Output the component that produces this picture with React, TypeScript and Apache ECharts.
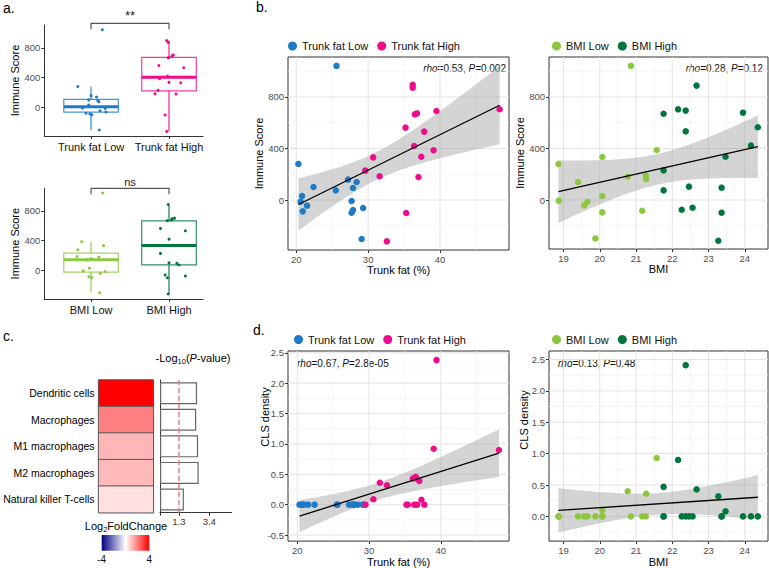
import React, { useEffect, useRef } from "react";
import * as echarts from "echarts";

const FONT = "'Liberation Sans', Arial, Helvetica, sans-serif";

// ---------------- DATA ----------------
const trunkGroups = ["Trunk fat Low", "Trunk fat High"];
const bmiGroups = ["BMI Low", "BMI High"];

// Immune score vs trunk fat (%)
const trunkLowX = [25.6, 20.3, 22.4, 20.8, 20.6, 21.5, 20.9, 25.5, 27.2, 28.4, 27.9, 27.7, 27.9, 27.7, 29.3, 29.1];
const trunkLowScore = [1041, 280, 101, 31, -13, -44, -88, 75, 158, 140, 93, -8, -78, -98, -62, -303];
const trunkLowJitter = [0.145, -0.17, -0.03, -0.03, 0.18, 0.115, -0.015, 0.1, 0, 0.07, 0.085, -0.11, -0.065, 0.01, 0.19, 0.105];
const trunkHighX = [36.2, 36.2, 36.5, 36.8, 39.5, 48.3, 35.2, 37.8, 36.4, 39.1, 37.4, 30.7, 29.6, 31.6, 37.0, 35.3, 32.6];
const trunkHighScore = [895, 872, 665, 672, 691, 704, 562, 531, 419, 386, 336, 331, 228, 184, 179, -101, -321];
const trunkHighJitter = [-0.03, -0.01, -0.01, 0, 0.04, 0.055, -0.13, 0.19, -0.02, -0.12, 0, 0.15, -0.14, -0.18, 0.09, -0.05, -0.03];

// Immune score vs BMI
const bmiLowX = [20.86, 21.57, 20.07, 18.86, 19.4, 20.77, 21.27, 21.28, 20.07, 18.87, 19.66, 19.57, 20.07, 21.17, 19.88];
const bmiLowScore = [1041, 388, 334, 280, 140, 181, 189, 161, 31, -5, -13, -41, -96, -83, -298];
const bmiLowJitter = [0.15, -0.12, 0.16, -0.17, -0.05, 0.1, -0.18, 0, -0.02, -0.1, 0.18, 0.12, 0.01, -0.03, 0.11];
const bmiHighX = [22.67, 22.16, 22.37, 21.76, 23.95, 24.36, 22.37, 24.17, 23.47, 21.76, 21.76, 22.46, 23.36, 22.26, 22.56, 23.36, 23.27];
const bmiHighScore = [888, 704, 694, 670, 678, 565, 533, 422, 336, 230, 75, 104, 96, -75, -60, -98, -316];
const bmiHighJitter = [-0.01, 0.07, 0.04, -0.02, 0.03, -0.11, 0.21, 0, 0.06, -0.11, 0.13, 0, 0.1, 0.21, -0.05, -0.02, -0.01];

// box stats [min, q1, median, q3, max]
const trunkLowBox = [-303, -63, 8, 107, 280];
const trunkHighBox = [-321, 223, 403, 671, 895];
const bmiLowBox = [-298, -21, 143, 233, 388];
const bmiHighBox = [-316, 76, 335, 666, 888];

// CLS density
const clsTrunkLowX = [25.6, 20.3, 22.4, 20.8, 20.6, 21.5, 20.9, 25.5, 27.2, 28.4, 27.9, 27.7, 27.9, 27.7, 29.3, 29.1];
const clsTrunkLow = [0, 0, 0, 0, 0, 0, 0, 0, 0, 0, 0, 0, 0, 0, 0, 0];
const clsTrunkHighX = [39.4, 39.0, 48.1, 31.5, 32.5, 30.6, 29.5, 35.2, 35.4, 36.3, 36.7, 37.7, 37.3, 36.1, 36.5, 36.6, 37.0];
const clsTrunkHigh = [2.38, 0.92, 0.9, 0.36, 0.32, 0.09, 0, 0, 0, 0, 0, 0, 0.08, 0.43, 0.46, 0.43, 0.39];
const clsBmiLowX = [18.86, 18.87, 19.4, 19.57, 19.66, 19.88, 20.07, 20.07, 20.07, 20.77, 20.86, 21.17, 21.27, 21.28, 21.57];
const clsBmiLow = [0, 0, 0, 0, 0, 0, 0, 0, 0.1, 0.4, 0, 0, 0, 0.36, 0.93];
const clsBmiHighX = [21.76, 21.76, 21.76, 22.16, 22.26, 22.37, 22.37, 22.46, 22.56, 22.67, 23.27, 23.36, 23.36, 23.47, 23.95, 24.17, 24.36];
const clsBmiHigh = [0.47, 0, 0, 0.9, 0, 2.41, 0, 0, 0, 0.43, 0.32, 0, 0, 0.08, 0, 0, 0];

// Panel c
const cellTypes = ["Dendritic cells", "Macrophages", "M1 macrophages", "M2 macrophages", "Natural killer T-cells"];
const log2FC = [4, 2, 1.15, 1.1, 0.5];
const negLog10P = [2.56, 2.5, 2.63, 2.67, 1.65];
const pThreshold = 1.3;
const pTicks = [0, 1.3, 3.4];
const pLabels = [1.3, 3.4];
const fcRange = [-4, 4];

// ticks
const scoreTicks = [0, 400, 800];
const scoreMinor = [-200, 200, 600, 1000];
const trunkTicks = [20, 30, 40];
const trunkMinor = [25, 35, 45];
const bmiTicks = [19, 20, 21, 22, 23, 24];
const bmiMinor = [19.5, 20.5, 21.5, 22.5, 23.5, 24.5];
const clsTicks = [-0.5, 0, 0.5, 1, 1.5, 2, 2.5];
const clsMinor = [-0.25, 0.25, 0.75, 1.25, 1.75, 2.25];

// ---------------- STYLE ----------------
const C_LT = "#1C7AC7";
const C_HT = "#EC0C8C";
const C_LB = "#8DC63F";
const C_HB = "#00753C";

const hexA = (hex: string, a: number) => {
  const n = parseInt(hex.slice(1), 16);
  return `rgba(${(n >> 16) & 255},${(n >> 8) & 255},${n & 255},${a})`;
};

function linFit(xs: number[], ys: number[]) {
  const n = xs.length;
  const mx = xs.reduce((s, v) => s + v, 0) / n;
  const my = ys.reduce((s, v) => s + v, 0) / n;
  let sxx = 0, sxy = 0;
  for (let i = 0; i < n; i++) {
    sxx += (xs[i] - mx) ** 2;
    sxy += (xs[i] - mx) * (ys[i] - my);
  }
  const b = sxy / sxx;
  const a = my - b * mx;
  let sse = 0;
  for (let i = 0; i < n; i++) sse += (ys[i] - a - b * xs[i]) ** 2;
  const s = Math.sqrt(sse / (n - 2));
  return { a, b, mx, sxx, s, n, x0: Math.min(...xs), x1: Math.max(...xs) };
}

function bandOf(f: any, steps = 60) {
  const t = 2.04;
  const lo: number[][] = [], hi: number[][] = [];
  for (let i = 0; i <= steps; i++) {
    const x = f.x0 + ((f.x1 - f.x0) * i) / steps;
    const y = f.a + f.b * x;
    const se = f.s * Math.sqrt(1 / f.n + (x - f.mx) ** 2 / f.sxx);
    lo.push([x, y - t * se]);
    hi.push([x, y + t * se]);
  }
  return { lo, hi };
}

const baseLabel = { fontFamily: FONT, fontSize: 9.5, color: "#4D4D4D" };

function valAxis(gridIndex: number, range: number[], ticks: number[], fmt: (v: number) => string, extra: any = {}) {
  const inR = ticks.filter((t) => t >= range[0] && t <= range[1]);
  return {
    type: "value",
    gridIndex,
    min: range[0],
    max: range[1],
    axisLine: { show: false, onZero: false },
    axisTick: { show: true, length: 3, customValues: inR, lineStyle: { color: "#333", width: 1 } },
    axisLabel: { ...baseLabel, margin: 4, customValues: inR, formatter: fmt },
    splitLine: { show: false },
    ...extra,
  };
}

function gridLinesSeries(gi: number, xr: number[], yr: number[], majX: number[], minX: number[], majY: number[], minY: number[]) {
  return {
    type: "custom",
    xAxisIndex: gi,
    yAxisIndex: gi,
    silent: true,
    z: 1,
    data: [[xr[0], yr[0]]],
    renderItem: (_p: any, api: any) => {
      const children: any[] = [];
      const add = (vals: number[], isX: boolean, major: boolean) => {
        vals.forEach((v) => {
          const r = isX ? xr : yr;
          if (v <= r[0] || v >= r[1]) return;
          const p1 = isX ? api.coord([v, yr[0]]) : api.coord([xr[0], v]);
          const p2 = isX ? api.coord([v, yr[1]]) : api.coord([xr[1], v]);
          children.push({
            type: "line",
            shape: { x1: p1[0], y1: p1[1], x2: p2[0], y2: p2[1] },
            style: { stroke: major ? "#E4E4E4" : "#F1F1F1", lineWidth: major ? 1 : 0.7 },
          });
        });
      };
      add(minX, true, false);
      add(minY, false, false);
      add(majX, true, true);
      add(majY, false, true);
      return { type: "group", children };
    },
  };
}

function bandSeries(gi: number, f: any) {
  const b = bandOf(f);
  return {
    type: "custom",
    xAxisIndex: gi,
    yAxisIndex: gi,
    silent: true,
    z: 2,
    clip: true,
    data: [[f.x0, f.a + f.b * f.x0]],
    renderItem: (_p: any, api: any) => {
      const pts = b.lo.map((p) => api.coord(p)).concat(b.hi.slice().reverse().map((p) => api.coord(p)));
      return { type: "polygon", shape: { points: pts }, style: { fill: "rgba(153,153,153,0.42)" } };
    },
  };
}

function fitLine(gi: number, f: any) {
  return {
    type: "line",
    xAxisIndex: gi,
    yAxisIndex: gi,
    silent: true,
    z: 5,
    symbol: "none",
    lineStyle: { color: "#000", width: 1.3 },
    data: [[f.x0, f.a + f.b * f.x0], [f.x1, f.a + f.b * f.x1]],
  };
}

function scatter(name: string, gi: number, xs: number[], ys: number[], color: string, size = 6.5) {
  return {
    type: "scatter",
    name,
    xAxisIndex: gi,
    yAxisIndex: gi,
    z: 4,
    symbolSize: size,
    itemStyle: { color, opacity: 1 },
    data: xs.map((x, i) => [x, ys[i]]),
  };
}

function jitterSeries(gi: number, center: number, jit: number[], ys: number[], color: string) {
  return {
    type: "scatter",
    xAxisIndex: gi,
    yAxisIndex: gi,
    z: 4,
    silent: true,
    symbolSize: 3,
    itemStyle: { color, opacity: 1 },
    data: ys.map((y, i) => [center + jit[i], y]),
  };
}

function boxSeries(gi: number, center: number, stats: number[], color: string) {
  return {
    type: "custom",
    xAxisIndex: gi,
    yAxisIndex: gi,
    silent: true,
    z: 2,
    data: [[center, ...stats]],
    renderItem: (_p: any, api: any) => {
      const c = api.value(0);
      const mn = api.value(1), q1 = api.value(2), md = api.value(3), q3 = api.value(4), mx = api.value(5);
      const hw = 0.35;
      const w1 = api.coord([c, mn]), w2 = api.coord([c, mx]);
      const b1 = api.coord([c - hw, q3]), b2 = api.coord([c + hw, q1]);
      const m1 = api.coord([c - hw, md]), m2 = api.coord([c + hw, md]);
      return {
        type: "group",
        children: [
          { type: "line", shape: { x1: w1[0], y1: w1[1], x2: w2[0], y2: w2[1] }, style: { stroke: hexA(color, 0.55), lineWidth: 2 } },
          {
            type: "rect",
            shape: { x: b1[0], y: b1[1], width: b2[0] - b1[0], height: b2[1] - b1[1] },
            style: { fill: "#fff", stroke: hexA(color, 0.8), lineWidth: 1.2 },
          },
          { type: "line", shape: { x1: m1[0], y1: m1[1], x2: m2[0], y2: m2[1] }, style: { stroke: color, lineWidth: 3 } },
        ],
      };
    },
  };
}

function bracketSeries(gi: number, yTop: number, yTick: number, label: string, fs: number, gap: number) {
  return {
    type: "custom",
    xAxisIndex: gi,
    yAxisIndex: gi,
    silent: true,
    z: 3,
    clip: false,
    data: [[0, 1, yTop, yTick]],
    renderItem: (_p: any, api: any) => {
      const a = api.value(0), b = api.value(1), yt = api.value(2), yk = api.value(3);
      const p1 = api.coord([a, yk]), p2 = api.coord([a, yt]), p3 = api.coord([b, yt]), p4 = api.coord([b, yk]);
      return {
        type: "group",
        children: [
          { type: "polyline", shape: { points: [p1, p2, p3, p4] }, style: { stroke: "#555", lineWidth: 1.2, fill: "none" } },
          {
            type: "text",
            x: (p2[0] + p3[0]) / 2,
            y: p2[1] - gap,
            style: { text: label, fontSize: fs, fontFamily: FONT, fill: "#222", align: "center", verticalAlign: "bottom" },
          },
        ],
      };
    },
  };
}

// ranges
const aX = [-0.6, 1.436];
const aY = [-383, 1105];
const bLX = [18.85, 49.6];
const bLY = [-388, 1110];
const bRX = [18.6, 24.64];
const bRY = [-380, 1110];
const dLX = [18.7, 49.5];
const dLY = [-0.6, 2.53];
const dRX = [18.6, 24.64];
const dRY = [-0.394, 2.636];

const fmtInt = (v: number) => String(Math.round(v));
const fmt1 = (v: number) => v.toFixed(1);

function buildOption() {
  const boxGrid = { show: true, borderColor: "#333", borderWidth: 1, backgroundColor: "#fff" };
  const grid = [
    { left: 44.3, top: 25, width: 158.7, height: 111 },
    { left: 44.3, top: 188.3, width: 158.7, height: 110.7 },
    { left: 288, top: 57, width: 221, height: 193, ...boxGrid },
    { left: 549, top: 57, width: 219, height: 192, ...boxGrid },
    { left: 288, top: 351, width: 221, height: 192, ...boxGrid },
    { left: 549, top: 351, width: 219, height: 192, ...boxGrid },
    { left: 98.3, top: 380, width: 55, height: 132.7 },
    { left: 160, top: 380, width: 71.7, height: 132.7 },
  ];

  const nameStyle = { fontFamily: FONT, fontSize: 11, color: "#000" };

  const aXAxis = (gi: number, groups: string[]) => ({
    type: "value",
    gridIndex: gi,
    min: aX[0],
    max: aX[1],
    axisLine: { show: true, onZero: false, lineStyle: { color: "#333", width: 1 } },
    axisTick: { show: true, length: 3, customValues: [0, 1], lineStyle: { color: "#333" } },
    axisLabel: { customValues: [0, 1], formatter: (v: number) => groups[Math.round(v)], fontFamily: FONT, fontSize: 11, color: "#111", margin: 5 },
    splitLine: { show: false },
  });
  const aYAxis = (gi: number) =>
    valAxis(gi, aY, scoreTicks, fmtInt, {
      axisLine: { show: true, onZero: false, lineStyle: { color: "#333", width: 1 } },
      name: "Immune Score",
      nameLocation: "middle",
      nameGap: 19,
      nameTextStyle: nameStyle,
    });

  const xAxis: any[] = [
    aXAxis(0, trunkGroups),
    aXAxis(1, bmiGroups),
    valAxis(2, bLX, trunkTicks, fmtInt, { name: "Trunk fat (%)", nameLocation: "middle", nameGap: 12.5, nameTextStyle: nameStyle }),
    valAxis(3, bRX, bmiTicks, fmtInt, { name: "BMI", nameLocation: "middle", nameGap: 12.5, nameTextStyle: nameStyle }),
    valAxis(4, dLX, trunkTicks, fmtInt, { name: "Trunk fat (%)", nameLocation: "middle", nameGap: 13, nameTextStyle: nameStyle }),
    valAxis(5, dRX, bmiTicks, fmtInt, { name: "BMI", nameLocation: "middle", nameGap: 14, nameTextStyle: nameStyle }),
    { type: "category", gridIndex: 6, data: [""], axisLine: { show: false }, axisTick: { show: false }, axisLabel: { show: false } },
    {
      type: "value",
      gridIndex: 7,
      min: 0,
      max: 4.95,
      axisLine: { show: true, onZero: false, lineStyle: { color: "#333", width: 1 } },
      axisTick: { show: true, length: 3, customValues: pTicks, lineStyle: { color: "#333" } },
      axisLabel: { ...baseLabel, color: "#333", margin: 4, customValues: pLabels, formatter: (v: number) => String(v) },
      splitLine: { show: false },
    },
  ];

  const yAxis: any[] = [
    aYAxis(0),
    aYAxis(1),
    valAxis(2, bLY, scoreTicks, fmtInt, { name: "Immune Score", nameLocation: "middle", nameGap: 23, nameTextStyle: nameStyle }),
    valAxis(3, bRY, scoreTicks, fmtInt, { name: "Immune Score", nameLocation: "middle", nameGap: 24, nameTextStyle: nameStyle }),
    valAxis(4, dLY, clsTicks, fmt1),
    valAxis(5, dRY, clsTicks, fmt1),
    {
      type: "category",
      gridIndex: 6,
      inverse: true,
      data: cellTypes,
      axisLine: { show: false },
      axisTick: { show: false },
      axisLabel: { fontFamily: FONT, fontSize: 10.5, color: "#000", margin: 4 },
    },
    {
      type: "category",
      gridIndex: 7,
      inverse: true,
      data: cellTypes,
      axisLine: { show: true, lineStyle: { color: "#333", width: 1 } },
      axisTick: { show: false },
      axisLabel: { show: false },
    },
  ];

  const fitBL = linFit(trunkLowX.concat(trunkHighX), trunkLowScore.concat(trunkHighScore));
  const fitBR = linFit(bmiLowX.concat(bmiHighX), bmiLowScore.concat(bmiHighScore));
  const fitDL = linFit(clsTrunkLowX.concat(clsTrunkHighX), clsTrunkLow.concat(clsTrunkHigh));
  const fitDR = linFit(clsBmiLowX.concat(clsBmiHighX), clsBmiLow.concat(clsBmiHigh));

  const series: any[] = [
    // a top
    boxSeries(0, 0, trunkLowBox, C_LT),
    boxSeries(0, 1, trunkHighBox, C_HT),
    jitterSeries(0, 0, trunkLowJitter, trunkLowScore, C_LT),
    jitterSeries(0, 1, trunkHighJitter, trunkHighScore, C_HT),
    bracketSeries(0, 1127, 1047, "**", 13, 1),
    // a bottom
    boxSeries(1, 0, bmiLowBox, C_LB),
    boxSeries(1, 1, bmiHighBox, C_HB),
    jitterSeries(1, 0, bmiLowJitter, bmiLowScore, C_LB),
    jitterSeries(1, 1, bmiHighJitter, bmiHighScore, C_HB),
    bracketSeries(1, 1104, 1024, "ns", 11, 1),
    // b left
    gridLinesSeries(2, bLX, bLY, trunkTicks, trunkMinor, scoreTicks, scoreMinor),
    bandSeries(2, fitBL),
    scatter("Trunk fat Low", 2, trunkLowX, trunkLowScore, C_LT),
    scatter("Trunk fat High", 2, trunkHighX, trunkHighScore, C_HT),
    fitLine(2, fitBL),
    // b right
    gridLinesSeries(3, bRX, bRY, bmiTicks, bmiMinor, scoreTicks, scoreMinor),
    bandSeries(3, fitBR),
    scatter("BMI Low", 3, bmiLowX, bmiLowScore, C_LB),
    scatter("BMI High", 3, bmiHighX, bmiHighScore, C_HB),
    fitLine(3, fitBR),
    // d left
    gridLinesSeries(4, dLX, dLY, trunkTicks, trunkMinor, clsTicks, clsMinor),
    bandSeries(4, fitDL),
    scatter("Trunk fat Low", 4, clsTrunkLowX, clsTrunkLow, C_LT),
    scatter("Trunk fat High", 4, clsTrunkHighX, clsTrunkHigh, C_HT),
    fitLine(4, fitDL),
    // d right
    gridLinesSeries(5, dRX, dRY, bmiTicks, bmiMinor, clsTicks, clsMinor),
    bandSeries(5, fitDR),
    scatter("BMI Low", 5, clsBmiLowX, clsBmiLow, C_LB),
    scatter("BMI High", 5, clsBmiHighX, clsBmiHigh, C_HB),
    fitLine(5, fitDR),
  ];

  const heatIdx = series.length;
  series.push({
    type: "heatmap",
    xAxisIndex: 6,
    yAxisIndex: 6,
    silent: true,
    data: cellTypes.map((_c, i) => [0, i, log2FC[i]]),
    itemStyle: { borderColor: "#555", borderWidth: 1 },
  });
  series.push({
    type: "bar",
    xAxisIndex: 7,
    yAxisIndex: 7,
    silent: true,
    barWidth: 22,
    data: negLog10P,
    itemStyle: { color: "#fff", borderColor: "#666", borderWidth: 1.2 },
    markLine: {
      silent: true,
      symbol: ["none", "none"],
      label: { show: false },
      lineStyle: { type: [5, 3], color: "#E4808E", width: 1.5 },
      data: [{ xAxis: pThreshold }],
    },
  });

  const legendBase = {
    icon: "circle",
    itemWidth: 9,
    itemHeight: 9,
    itemGap: 9,
    padding: 0,
    selectedMode: false,
    textStyle: { fontFamily: FONT, fontSize: 11, color: "#111" },
  };
  const legend = [
    { ...legendBase, data: trunkGroups, left: 288, top: 40.5 },
    { ...legendBase, data: bmiGroups, left: 552, top: 40.5 },
    { ...legendBase, data: trunkGroups, left: 294, top: 334 },
    { ...legendBase, data: bmiGroups, left: 552, top: 334 },
  ];

  const lab = (text: string, x: number, y: number) => ({
    type: "text",
    x,
    y,
    style: { text, fontFamily: FONT, fontSize: 14, fill: "#000", verticalAlign: "middle" },
  });
  const rich10 = {
    i: { fontFamily: FONT, fontSize: 10, fontStyle: "italic", fill: "#111" },
    n: { fontFamily: FONT, fontSize: 10, fill: "#111" },
  };
  const rhoText = (rho: string, p: string, x: number, y: number, align: string) => ({
    type: "text",
    x,
    y,
    style: { text: `{i|rho}{n|=${rho}, }{i|P}{n|=${p}}`, rich: rich10, align, verticalAlign: "middle" },
  });
  const sub = {
    n: { fontFamily: FONT, fontSize: 11, fill: "#000", lineHeight: 14 },
    i: { fontFamily: FONT, fontSize: 11, fill: "#000", fontStyle: "italic", lineHeight: 14 },
    s: { fontFamily: FONT, fontSize: 7.5, fill: "#000", lineHeight: 9, verticalAlign: "bottom" },
  };

  const graphic = [
    lab("a.", 3, 8),
    lab("b.", 256, 7),
    lab("c.", 3, 336),
    lab("d.", 253, 330),
    rhoText("0.53", "0.002", 506, 68, "right"),
    rhoText("0.28", "0.12", 763, 68, "right"),
    rhoText("0.67", "2.8e-05", 297, 363.5, "left"),
    rhoText("0.13", "0.48", 558, 363.5, "left"),
    {
      type: "text",
      x: 265,
      y: 417,
      rotation: Math.PI / 2,
      style: { text: "CLS density", fontFamily: FONT, fontSize: 11, fill: "#000", align: "center", verticalAlign: "middle" },
    },
    {
      type: "text",
      x: 523.5,
      y: 420,
      rotation: Math.PI / 2,
      style: { text: "CLS density", fontFamily: FONT, fontSize: 11, fill: "#000", align: "center", verticalAlign: "middle" },
    },
    {
      type: "text",
      x: 193,
      y: 358,
      style: { text: "{n|-Log}{s|10}{n|(}{i|P}{n|-value)}", rich: sub, align: "center", verticalAlign: "middle" },
    },
    {
      type: "text",
      x: 126,
      y: 526,
      style: { text: "{n|Log}{s|2}{n|FoldChange}", rich: sub, align: "center", verticalAlign: "middle" },
    },
    {
      type: "rect",
      shape: { x: 101.7, y: 535, width: 47.6, height: 15.7 },
      style: {
        fill: new echarts.graphic.LinearGradient(0, 0, 1, 0, [
          { offset: 0, color: "#000080" },
          { offset: 0.5, color: "#ffffff" },
          { offset: 1, color: "#ff0000" },
        ]),
      },
    },
    {
      type: "text",
      x: 101.7,
      y: 559,
      style: { text: String(fcRange[0]), fontFamily: FONT, fontSize: 10, fill: "#111", align: "center", verticalAlign: "middle" },
    },
    {
      type: "text",
      x: 149.3,
      y: 559,
      style: { text: String(fcRange[1]), fontFamily: FONT, fontSize: 10, fill: "#111", align: "center", verticalAlign: "middle" },
    },
  ];

  return {
    animation: false,
    backgroundColor: "#fff",
    textStyle: { fontFamily: FONT },
    grid,
    xAxis,
    yAxis,
    legend,
    visualMap: [
      {
        type: "continuous",
        show: false,
        min: fcRange[0],
        max: fcRange[1],
        dimension: 2,
        seriesIndex: heatIdx,
        inRange: { color: ["#000080", "#ffffff", "#ff0000"] },
      },
    ],
    series,
    graphic,
  };
}

export default function App() {
  const ref = useRef<HTMLDivElement>(null);
  useEffect(() => {
    if (!ref.current) return;
    const chart = echarts.init(ref.current, undefined, { renderer: "svg" });
    chart.setOption(buildOption() as any);
    return () => chart.dispose();
  }, []);
  return <div ref={ref} style={{ position: "absolute", left: 0, top: 0, width: 769, height: 568, background: "#fff" }} />;
}
